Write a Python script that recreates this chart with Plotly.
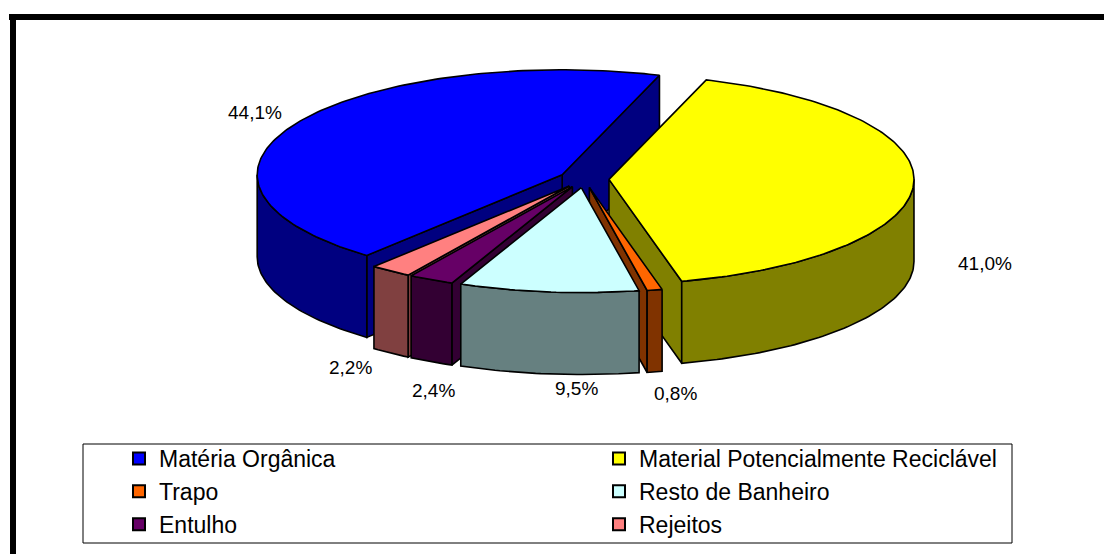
import math
import plotly.graph_objects as go

# Data, clockwise from the first slice
categories = ["Material Potencialmente Reciclável", "Trapo", "Resto de Banheiro", "Entulho", "Rejeitos", "Matéria Orgânica"]
shares = [41.0, 0.8, 9.5, 2.4, 2.2, 44.1]
labels = ["41,0%", "0,8%", "9,5%", "2,4%", "2,2%", "44,1%"]
legend_order = ["Matéria Orgânica", "Material Potencialmente Reciclável", "Trapo", "Resto de Banheiro", "Entulho", "Rejeitos"]

# Style
top_colors = ["#FFFF00", "#FF6600", "#CCFFFF", "#660066", "#FF8080", "#0000FF"]
side_colors = ["#808000", "#803300", "#668080", "#330033", "#804040", "#000080"]
draw_order = [5, 0, 4, 3, 1, 2]
START, CX, CY, RX, RY, DEPTH, PULL = 18.6, 584.0, 179.0, 305.0, 105.0, 82.0, 25.0
FONT = "Liberation Sans, Arial, sans-serif"

def pt(a, r, ox, oy, dz=0.0):
    t = math.radians(a)
    return ox + r * RX * math.sin(t), oy - r * RY * math.cos(t) + dz

def poly(fig, pts, color):
    fig.add_trace(go.Scatter(x=[p[0] for p in pts] + [pts[0][0]], y=[p[1] for p in pts] + [pts[0][1]],
                             mode="lines", fill="toself", fillcolor=color,
                             line=dict(color="black", width=1.6), showlegend=False, hoverinfo="skip"))

fig = go.Figure()
bounds = []
a = START
for s in shares:
    bounds.append((a, a + s * 3.6))
    a += s * 3.6

for i in draw_order:
    a0, a1 = bounds[i]
    mid = math.radians((a0 + a1) / 2)
    ox = CX + PULL * math.sin(mid)
    oy = CY - PULL * RY / RX * math.cos(mid)
    o = (ox, oy)
    faces = []
    if math.sin(math.radians(a1)) > 0:
        p = pt(a1, 1, ox, oy)
        faces.append([o, p, (p[0], p[1] + DEPTH), (ox, oy + DEPTH)])
    if math.sin(math.radians(a0)) < 0:
        p = pt(a0, 1, ox, oy)
        faces.append([o, p, (p[0], p[1] + DEPTH), (ox, oy + DEPTH)])
    for f in faces:
        poly(fig, f, side_colors[i])
    w0, w1 = max(a0, 90), min(a1, 270)
    if w1 > w0:
        n = max(2, int(w1 - w0) + 1)
        arc = [pt(w0 + (w1 - w0) * k / n, 1, ox, oy) for k in range(n + 1)]
        low = [(x, y + DEPTH) for x, y in reversed(arc)]
        poly(fig, arc + low, side_colors[i])
    n = max(2, int(a1 - a0) + 1)
    poly(fig, [o] + [pt(a0 + (a1 - a0) * k / n, 1, ox, oy) for k in range(n + 1)], top_colors[i])

for rank, name in enumerate(legend_order):
    i = categories.index(name)
    fig.add_trace(go.Scatter(x=[None], y=[None], mode="markers", name=name, legendrank=rank + 1,
                             marker=dict(symbol="square", size=12, color=top_colors[i],
                                         line=dict(color="black", width=1.5))))

label_pos = [(985, 263), (675, 393), (576, 388), (433, 390), (350, 367), (255, 112)]
annotations = [dict(x=x, y=y, text=t, showarrow=False, xref="x", yref="y",
                    font=dict(family=FONT, size=19, color="black"))
               for (x, y), t in zip(label_pos, labels)]

shapes = [
    dict(type="rect", x0=9, x1=1104, y0=14, y1=20, fillcolor="black", line_width=0, layer="below"),
    dict(type="rect", x0=10, x1=16, y0=14, y1=554, fillcolor="black", line_width=0, layer="below"),
    dict(type="rect", x0=83, x1=1012, y0=444, y1=543, fillcolor="white", line=dict(color="black", width=1), layer="below"),
]

fig.update_layout(
    width=1104, height=554, margin=dict(l=0, r=0, t=0, b=0),
    autosize=False, paper_bgcolor="white", plot_bgcolor="white",
    xaxis=dict(range=[0, 1104], visible=False, fixedrange=True),
    yaxis=dict(range=[554, 0], visible=False, fixedrange=True),
    shapes=shapes, annotations=annotations,
    legend=dict(orientation="h", x=119 / 1104, y=1 - 437 / 554, xanchor="left", yanchor="top",
                entrywidth=435, entrywidthmode="pixels", font=dict(family=FONT, size=23, color="black"),
                bgcolor="rgba(0,0,0,0)", itemsizing="constant", traceorder="normal"),
)
fig.write_html("out.html", config={"displayModeBar": False},
               post_script="document.body.style.margin='0';")
